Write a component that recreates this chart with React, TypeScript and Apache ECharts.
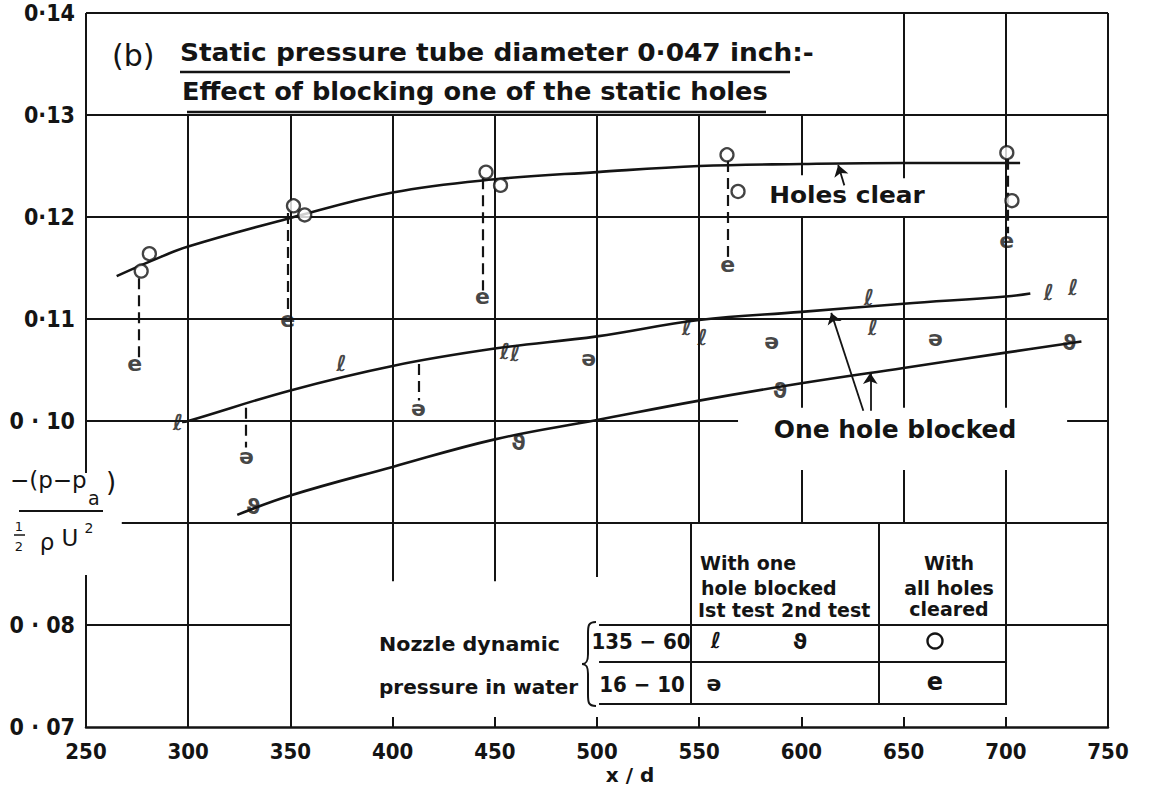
import React, { useEffect, useRef } from "react";
import * as echarts from "echarts";

// ---------- axis ticks ----------
const X_MIN = 250;
const X_MAX = 750;
const X_STEP = 50;
const Y_MIN = 0.07;
const Y_MAX = 0.14;
const Y_STEP = 0.01;
// labels for 0.07, 0.08, 0.09, 0.10, 0.11, 0.12, 0.13, 0.14
const yTickLabels = ["0 · 07", "0 · 08", "", "0 · 10", "0·11", "0·12", "0·13", "0·14"];

// ---------- faired curves ----------
const holesClearCurve = [
  [265, 0.1142], [282, 0.1157], [300, 0.1171], [350, 0.1199], [400, 0.1224],
  [450, 0.1237], [500, 0.1244], [550, 0.125], [600, 0.1252], [650, 0.1253], [707, 0.1253],
];
const blockedFirstCurve = [
  [297, 0.0999], [300, 0.1], [350, 0.103], [400, 0.1054], [450, 0.1071], [500, 0.1083],
  [550, 0.1099], [600, 0.1107], [650, 0.1115], [700, 0.1122], [712, 0.1125],
];
const blockedSecondCurve = [
  [324, 0.0908], [350, 0.0927], [400, 0.0955], [450, 0.0982], [500, 0.1001],
  [550, 0.102], [600, 0.1037], [650, 0.1052], [700, 0.1067], [737, 0.1078],
];

// ---------- measured points ----------
// 135-60, all holes cleared  (O)
const clear135 = [
  [277, 0.1147], [281, 0.1164], [351.5, 0.1211], [357, 0.1202], [445.7, 0.1244],
  [452.8, 0.1231], [563.6, 0.1261], [569, 0.1225], [700.5, 0.1263], [703, 0.1216],
];
// 16-10, all holes cleared  (e)
const clear16 = [
  [273.8, 0.1056], [348.7, 0.11], [444, 0.1122], [564, 0.1153], [700.5, 0.1177],
];
// 135-60, one hole blocked, 1st test  (ℓ)
const blocked135First = [
  [295, 0.0999], [375, 0.1056], [455, 0.1068], [460, 0.1066], [544, 0.1092],
  [551.6, 0.1082], [633, 0.1121], [635, 0.1092], [721, 0.1126], [733, 0.1131],
];
// 135-60, one hole blocked, 2nd test  (ϑ)
const blocked135Second = [
  [331.8, 0.0916], [461.6, 0.0979], [589.5, 0.103], [731, 0.1077],
];
// 16-10, one hole blocked  (ə)
const blocked16 = [
  [328.5, 0.0965], [412.7, 0.1012], [496, 0.1061], [585.5, 0.1078], [665.6, 0.1081],
];
// dashed connectors between pairs of readings at the same station
const dashedPairs = [
  [[276, 0.114], [276, 0.1062]],
  [[348.6, 0.1204], [348.6, 0.1106]],
  [[444.3, 0.1238], [444.3, 0.1128]],
  [[564, 0.1255], [564, 0.116]],
  [[700.8, 0.1257], [700.8, 0.1184]],
  [[328.3, 0.1013], [328.3, 0.0974]],
  [[412.6, 0.1056], [412.6, 0.102]],
];

// ---------- drawn grid (segments with gaps, as in the original) ----------
const gridSegments = [
  // horizontal lines
  [[250, 0.14], [750, 0.14]],
  [[250, 0.13], [750, 0.13]],
  [[250, 0.12], [750, 0.12]],
  [[250, 0.11], [750, 0.11]],
  [[250, 0.1], [569, 0.1]],
  [[730, 0.1], [750, 0.1]],
  [[267.5, 0.09], [750, 0.09]],
  [[250, 0.08], [350, 0.08]],
  [[501, 0.08], [750, 0.08]],
  // vertical lines
  [[250, 0.14], [250, 0.0949]],
  [[250, 0.0849], [250, 0.07]],
  [[300, 0.13], [300, 0.07]],
  [[350, 0.13], [350, 0.07]],
  [[400, 0.13], [400, 0.0843]],
  [[450, 0.13], [450, 0.0843]],
  [[500, 0.13], [500, 0.0847]],
  [[550, 0.13], [550, 0.09]],
  [[600, 0.13], [600, 0.1241]],
  [[600, 0.12], [600, 0.1013]],
  [[600, 0.0952], [600, 0.09]],
  [[650, 0.14], [650, 0.1238]],
  [[650, 0.12], [650, 0.1013]],
  [[650, 0.0952], [650, 0.09]],
  [[700, 0.14], [700, 0.1013]],
  [[700, 0.0952], [700, 0.07225]],
  [[750, 0.14], [750, 0.07]],
  // table
  [[501, 0.07636], [700.6, 0.07636]],
  [[501, 0.07225], [700.6, 0.07225]],
  [[546, 0.09], [546, 0.07225]],
  [[638, 0.09], [638, 0.07225]],
];
// annotation arrows (tail -> head)
const arrowPairs = [
  [[621, 0.1231], [618, 0.1251]],
  [[630.3, 0.101], [614.6, 0.1106]],
  [[633.7, 0.101], [633.7, 0.1047]],
];

const INK = "#141414";
const FONT = "'DejaVu Sans', sans-serif";
const FONT_C = "'DejaVu Sans Condensed', 'DejaVu Sans', sans-serif";

function glyphSeries(name: string, data: number[][], glyph: string, size: number) {
  return {
    type: "scatter",
    name,
    data,
    symbol: "circle",
    symbolSize: 1,
    itemStyle: { color: "rgba(0,0,0,0)" },
    label: {
      show: true,
      position: "inside",
      formatter: glyph,
      fontSize: size,
      fontFamily: FONT,
      fontWeight: "bold",
      color: INK,
    },
    z: 6,
  };
}

function txt(text: string, x: number, y: number, size: number, opts: any = {}) {
  return {
    type: "text",
    x,
    y,
    scaleX: opts.sx || 1,
    silent: true,
    style: {
      text,
      fill: INK,
      font: `${opts.weight || "bold"} ${size}px ${opts.family || FONT}`,
      textAlign: opts.align || "left",
      textVerticalAlign: "middle",
    },
  };
}

function ln(x1: number, y1: number, x2: number, y2: number, w = 2) {
  return {
    type: "line",
    silent: true,
    shape: { x1, y1, x2, y2 },
    style: { stroke: INK, lineWidth: w },
  };
}

export default function App() {
  const ref = useRef<HTMLDivElement>(null);

  useEffect(() => {
    if (!ref.current) return;
    const bracePath =
      "M 14 0 C 6 0 6 4 6 12 L 6 32 C 6 40 4 42 0 42 C 4 42 6 44 6 52 L 6 72 C 6 80 6 84 14 84";
    echarts.graphic.registerShape("brace", echarts.graphic.extendPath(bracePath, {}) as any);

    const chart = echarts.init(ref.current, undefined, { renderer: "svg" });

    const curveStyle = { color: INK, width: 2.6 };

    const option: any = {
      animation: false,
      backgroundColor: "#ffffff",
      grid: { left: 86, right: 41, top: 13, bottom: 67, containLabel: false },
      xAxis: {
        type: "value",
        min: X_MIN,
        max: X_MAX,
        interval: X_STEP,
        axisLine: { show: true, onZero: false, lineStyle: { color: INK, width: 2.5 } },
        axisTick: { show: true, inside: true, length: 10, lineStyle: { color: INK, width: 2 } },
        splitLine: { show: false },
        axisLabel: {
          margin: 13,
          fontSize: 22,
          fontWeight: "bold",
          fontFamily: FONT_C,
          color: INK,
        },
      },
      yAxis: {
        type: "value",
        min: Y_MIN,
        max: Y_MAX,
        interval: Y_STEP,
        axisLine: { show: false },
        axisTick: { show: false },
        splitLine: { show: false },
        axisLabel: {
          margin: 11,
          fontSize: 23,
          fontWeight: "bold",
          fontFamily: FONT_C,
          color: INK,
          padding: [9, 0, 0, 0],
          formatter: (v: number) => yTickLabels[Math.round(v * 100) - 7] ?? "",
        },
      },
      series: [
        {
          type: "lines",
          name: "grid",
          coordinateSystem: "cartesian2d",
          silent: true,
          data: gridSegments.map((c) => ({ coords: c })),
          lineStyle: { color: INK, width: 2, opacity: 1 },
          z: 1,
        },
        {
          type: "lines",
          name: "dashed",
          coordinateSystem: "cartesian2d",
          silent: true,
          data: dashedPairs.map((c) => ({ coords: c })),
          lineStyle: { color: INK, width: 2.2, type: [11, 6], opacity: 1 },
          z: 2,
        },
        {
          type: "lines",
          name: "arrows",
          coordinateSystem: "cartesian2d",
          silent: true,
          symbol: ["none", "arrow"],
          symbolSize: 11,
          data: arrowPairs.map((c) => ({ coords: c })),
          lineStyle: { color: INK, width: 1.8, opacity: 1 },
          z: 3,
        },
        {
          type: "line",
          name: "Holes clear",
          data: holesClearCurve,
          smooth: 0.4,
          showSymbol: false,
          symbol: "none",
          lineStyle: curveStyle,
          z: 4,
        },
        {
          type: "line",
          name: "One hole blocked, 1st test",
          data: blockedFirstCurve,
          smooth: 0.4,
          showSymbol: false,
          symbol: "none",
          lineStyle: curveStyle,
          z: 4,
        },
        {
          type: "line",
          name: "One hole blocked, 2nd test",
          data: blockedSecondCurve,
          smooth: 0.4,
          showSymbol: false,
          symbol: "none",
          lineStyle: curveStyle,
          z: 4,
        },
        {
          type: "scatter",
          name: "135-60 cleared",
          data: clear135,
          symbol: "circle",
          symbolSize: 13,
          itemStyle: { color: "#ffffff", borderColor: INK, borderWidth: 2.3 },
          z: 7,
        },
        glyphSeries("16-10 cleared", clear16, "e", 22),
        glyphSeries("135-60 blocked 1st", blocked135First, "ℓ", 22),
        glyphSeries("135-60 blocked 2nd", blocked135Second, "ϑ", 22),
        glyphSeries("16-10 blocked", blocked16, "ə", 22),
      ],
      graphic: [
        // title
        txt("(b)", 112, 55, 30, { weight: "normal" }),
        txt("Static pressure tube diameter 0·047 inch:-", 180, 53, 24, { sx: 1.1 }),
        ln(180, 72, 790, 72, 2.4),
        txt("Effect of blocking one of the static holes", 182, 92, 24, { sx: 1.07 }),
        ln(187, 112, 766, 112, 2.4),
        // curve labels
        txt("Holes clear", 847, 195, 23, { align: "center", sx: 1.08 }),
        txt("One hole blocked", 895, 430, 24, { align: "center", sx: 1.04 }),
        // y-axis name
        txt("−(p−p", 10, 480, 23, { weight: "normal" }),
        txt("a", 88, 498, 19, { weight: "normal" }),
        txt(")", 106, 482, 26, { weight: "normal" }),
        ln(19, 511, 103, 511, 2),
        txt("1", 19, 526, 13, { align: "center", weight: "normal" }),
        ln(14, 535, 25, 535, 1.5),
        txt("2", 19, 546, 13, { align: "center", weight: "normal" }),
        txt("ρ", 47, 542, 23, { align: "center", weight: "normal" }),
        txt("U", 70, 538, 23, { align: "center", weight: "normal" }),
        txt("2", 89, 528, 14, { align: "center", weight: "normal" }),
        // x-axis name
        txt("x / d", 630, 775, 20, { align: "center" }),
        // table
        txt("With one", 700, 563, 19),
        txt("hole blocked", 701, 588, 19),
        txt("Ist test 2nd test", 698, 610, 19),
        txt("With", 949, 563, 19, { align: "center" }),
        txt("all holes", 949, 588, 19, { align: "center" }),
        txt("cleared", 949, 609, 19, { align: "center" }),
        txt("135 − 60", 641, 641, 22, { align: "center", family: FONT_C }),
        txt("16 − 10", 642, 684, 22, { align: "center", family: FONT_C }),
        txt("Nozzle dynamic", 379, 644, 20, { sx: 1.03 }),
        txt("pressure in water", 379, 687, 20),
        {
          type: "brace",
          x: 582,
          y: 622,
          scaleX: 1,
          scaleY: 1.0,
          silent: true,
          style: { stroke: INK, fill: "none", lineWidth: 2 },
        },
        txt("ℓ", 716, 640, 22, { align: "center" }),
        txt("ϑ", 800, 641, 22, { align: "center" }),
        {
          type: "circle",
          silent: true,
          shape: { cx: 935, cy: 641, r: 7.5 },
          style: { stroke: INK, fill: "#fff", lineWidth: 2.4 },
        },
        txt("ə", 714, 683, 22, { align: "center" }),
        txt("e", 935, 682, 24, { align: "center" }),
      ],
    };

    chart.setOption(option);
    return () => chart.dispose();
  }, []);

  return (
    <div
      ref={ref}
      style={{ position: "fixed", left: 0, top: 0, width: 1149, height: 794, background: "#fff" }}
    />
  );
}
